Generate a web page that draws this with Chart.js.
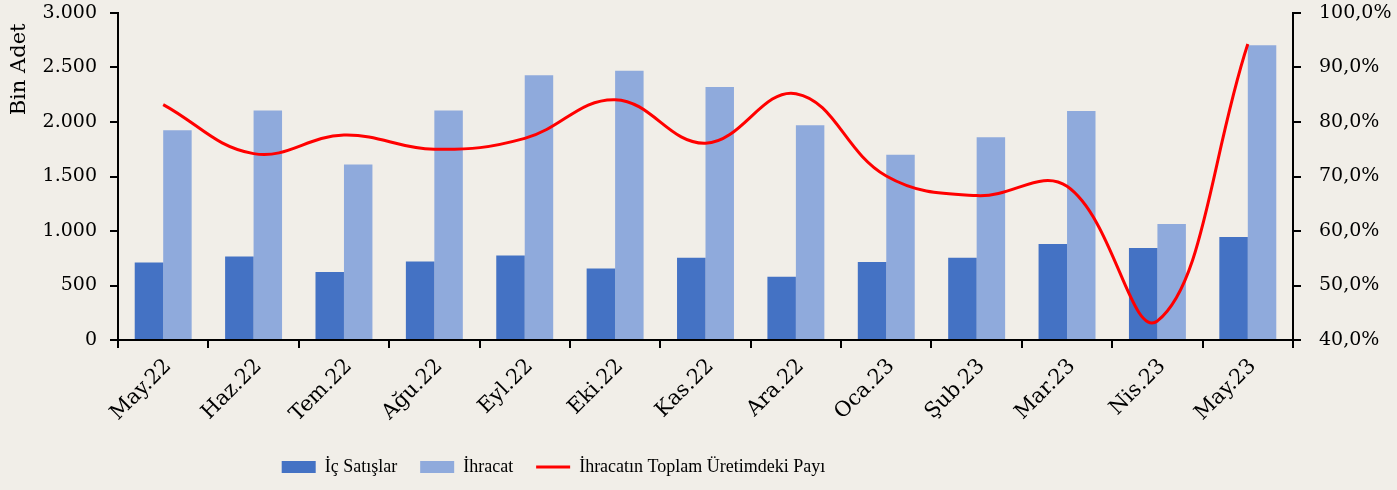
<!DOCTYPE html>
<html>
<head>
<meta charset="utf-8">
<script src="https://cdn.jsdelivr.net/npm/chart.js@4.4.1/dist/chart.umd.min.js"></script>
<style>
  html, body { margin: 0; padding: 0; background: #F1EEE8; }
  #wrap { width: 1397px; height: 490px; position: relative; }
</style>
</head>
<body>
<div id="wrap"><canvas id="chart"></canvas></div>
<script>
"use strict";

// Aylar
const months = ["May.22", "Haz.22", "Tem.22", "Ağu.22", "Eyl.22", "Eki.22", "Kas.22",
  "Ara.22", "Oca.23", "Şub.23", "Mar.23", "Nis.23", "May.23"];

// Bin adet
const icSatislar = [710, 765, 625, 720, 775, 655, 755, 580, 715, 755, 880, 845, 945];
const ihracat = [1925, 2105, 1610, 2105, 2430, 2470, 2320, 1970, 1700, 1860, 2100, 1065, 2705];

// Yüzde
const ihracatPayi = [83.2, 74.2, 77.6, 75.0, 77.0, 84.1, 76.1, 85.2, 70.1, 66.5, 68.2, 43.5, 94.3];

const serif = "'DejaVu Serif', serif";
const ink = "#000";

const fmtTR = (v) => v.toLocaleString("tr-TR");
const fmtPct = (v) => v.toFixed(1).replace(".", ",") + "%";

// legend'i Excel'deki gibi biraz sola kaydır
const legendShift = {
  id: "legendShift",
  afterLayout(chart) {
    chart.legend.right -= 290;
  },
};

// dikey eksenlerin üst boşluğunu sabitle (tick padding üstü itmesin)
function fixVertical(width) {
  return (s) => {
    s.width = width;
    s.paddingTop = 0;
    s.paddingBottom = 0;
  };
}

new Chart(document.getElementById("chart"), {
  data: {
    labels: months,
    datasets: [
      {
        type: "line",
        label: "İhracatın Toplam Üretimdeki Payı",
        data: ihracatPayi,
        yAxisID: "y2",
        borderColor: "#FF0000",
        backgroundColor: "#FF0000",
        borderWidth: 3,
        pointRadius: 0,
        pointStyle: "line",
        tension: 0.4,
        order: 0,
      },
      {
        type: "bar",
        label: "İç Satışlar",
        data: icSatislar,
        yAxisID: "y",
        backgroundColor: "#4472C4",
        pointStyle: "rect",
        barPercentage: 1,
        categoryPercentage: 0.63,
        order: 1,
      },
      {
        type: "bar",
        label: "İhracat",
        data: ihracat,
        yAxisID: "y",
        backgroundColor: "#8FAADC",
        pointStyle: "rect",
        barPercentage: 1,
        categoryPercentage: 0.63,
        order: 2,
      },
    ],
  },
  options: {
    responsive: true,
    maintainAspectRatio: false,
    animation: false,
    layout: { padding: { top: 13, bottom: 4, left: 0, right: 0 } },
    plugins: {
      tooltip: { enabled: false },
      legend: {
        position: "bottom",
        labels: {
          usePointStyle: true,
          pointStyleWidth: 34,
          boxHeight: 12,
          padding: 23,
          color: ink,
          font: { family: "'Liberation Serif', serif", size: 18 },
          sort: (a, b) => {
            const order = [1, 2, 0];
            return order.indexOf(a.datasetIndex) - order.indexOf(b.datasetIndex);
          },
        },
      },
    },
    scales: {
      x: {
        grid: {
          display: true,
          drawOnChartArea: false,
          offset: true,
          color: ink,
          lineWidth: 2,
          tickLength: 8,
        },
        border: { color: ink, width: 2 },
        ticks: {
          color: ink,
          font: { family: serif, size: 21 },
          maxRotation: 45,
          minRotation: 45,
          autoSkip: false,
          padding: 6,
          labelOffset: 5,
        },
        afterFit(s) { s.height = 95; },
      },
      y: {
        position: "left",
        min: 0,
        max: 3000,
        grid: { display: true, drawOnChartArea: false, color: ink, lineWidth: 2, tickLength: 8 },
        border: { color: ink, width: 2 },
        ticks: {
          stepSize: 500,
          color: ink,
          padding: 13,
          font: { family: serif, size: 19 },
          callback: (v) => fmtTR(v),
        },
        title: {
          display: true,
          text: "Bin Adet\u2002",
          align: "end",
          color: ink,
          font: { family: serif, size: 21 },
          padding: { top: 7, bottom: 4 },
        },
        afterFit: fixVertical(118),
      },
      y2: {
        position: "right",
        min: 40,
        max: 100,
        grid: { display: true, drawOnChartArea: false, color: ink, lineWidth: 2, tickLength: 8 },
        border: { color: ink, width: 2 },
        ticks: {
          stepSize: 10,
          color: ink,
          padding: 18,
          font: { family: serif, size: 19 },
          callback: (v) => fmtPct(v),
        },
        afterFit: fixVertical(104),
      },
    },
  },
  plugins: [legendShift],
});
</script>
</body>
</html>
